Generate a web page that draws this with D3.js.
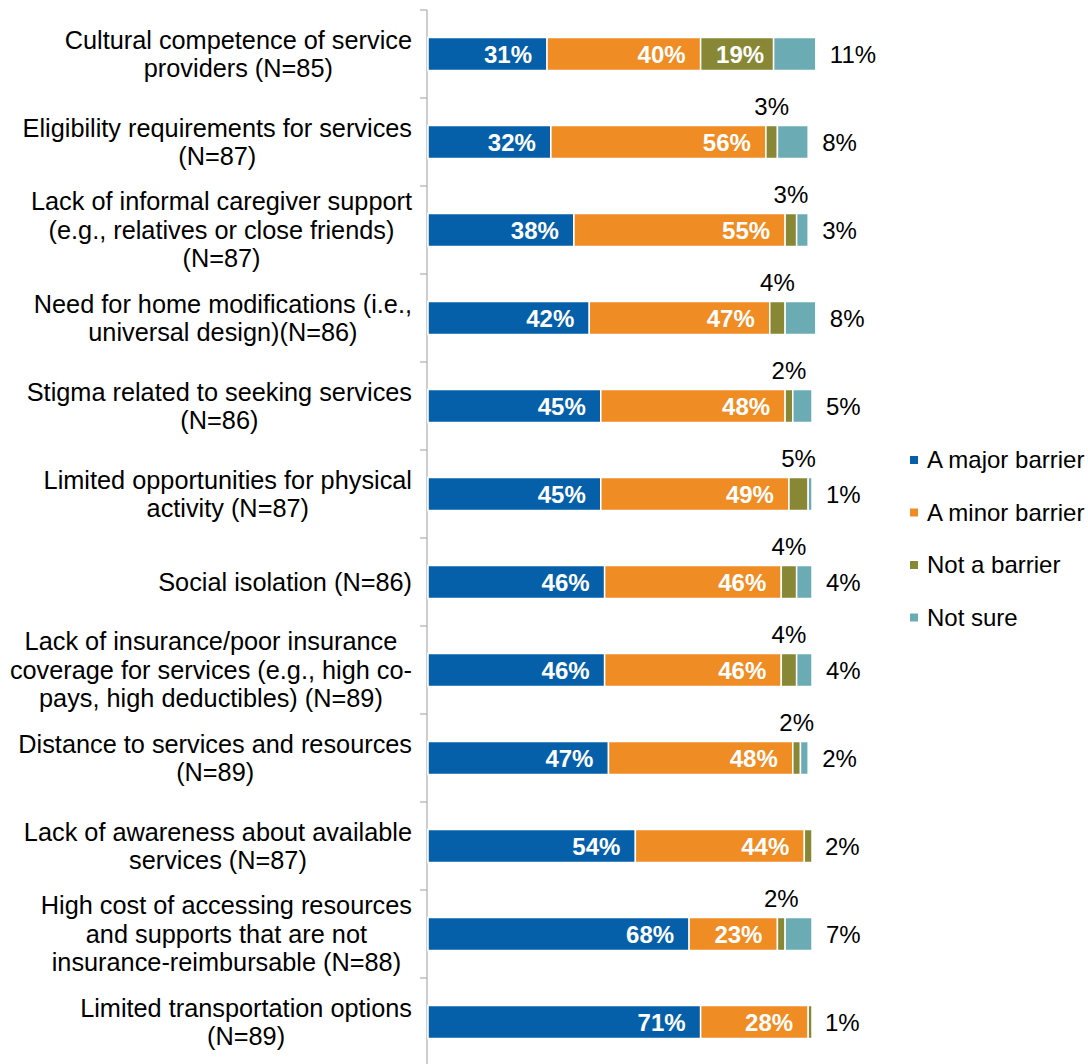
<!DOCTYPE html>
<html>
<head>
<meta charset="utf-8">
<script src="https://cdn.jsdelivr.net/npm/d3@7"></script>
<style>
  html, body { margin: 0; padding: 0; background: #fff; }
  svg { display: block; font-family: "Liberation Sans", Arial, sans-serif; }
</style>
</head>
<body>
<svg id="chart" width="1088" height="1064"></svg>
<script>
// ---- Data ----
const categories = [
  "Cultural competence of service providers (N=85)",
  "Eligibility requirements for services (N=87)",
  "Lack of informal caregiver support (e.g., relatives or close friends) (N=87)",
  "Need for home modifications (i.e., universal design)(N=86)",
  "Stigma related to seeking services (N=86)",
  "Limited opportunities for physical activity (N=87)",
  "Social isolation (N=86)",
  "Lack of insurance/poor insurance coverage for services (e.g., high co-pays, high deductibles) (N=89)",
  "Distance to services and resources (N=89)",
  "Lack of awareness about available services (N=87)",
  "High cost of accessing resources and supports that are not insurance-reimbursable (N=88)",
  "Limited transportation options (N=89)"
];
const categoryLines = [
  ["Cultural competence of service", "providers (N=85)"],
  ["Eligibility requirements for services", "(N=87)"],
  ["Lack of informal caregiver support", "(e.g., relatives or close friends)", "(N=87)"],
  ["Need for home modifications (i.e.,", "universal design)(N=86)"],
  ["Stigma related to seeking services", "(N=86)"],
  ["Limited opportunities for physical", "activity (N=87)"],
  ["Social isolation (N=86)"],
  ["Lack of insurance/poor insurance", "coverage for services (e.g., high co-", "pays, high deductibles) (N=89)"],
  ["Distance to services and resources", "(N=89)"],
  ["Lack of awareness about available", "services (N=87)"],
  ["High cost of accessing resources", "and supports that are not", "insurance-reimbursable (N=88)"],
  ["Limited transportation options", "(N=89)"]
];
const seriesNames = ["A major barrier", "A minor barrier", "Not a barrier", "Not sure"];
const majorBarrier = [31, 32, 38, 42, 45, 45, 46, 46, 47, 54, 68, 71];
const minorBarrier = [40, 56, 55, 47, 48, 49, 46, 46, 48, 44, 23, 28];
const notBarrier   = [19, 3, 3, 4, 2, 5, 4, 4, 2, 2, 2, 1];
const notSure      = [11, 8, 3, 8, 5, 1, 4, 4, 2, 0, 7, 0];
const colors = ["#0660A9", "#F08C24", "#878735", "#6BACB4"];

// ---- Build stacked table ----
const table = categories.map((c, i) => ({
  cat: c,
  "A major barrier": majorBarrier[i],
  "A minor barrier": minorBarrier[i],
  "Not a barrier": notBarrier[i],
  "Not sure": notSure[i]
}));
const stacked = d3.stack().keys(seriesNames)(table);

const svg = d3.select("#chart");
const font = '"Liberation Sans", Arial, sans-serif';

const x = d3.scaleLinear().domain([0, 100]).range([428, 812]);
const y = d3.scaleBand().domain(categories).range([10, 1066])
  .paddingInner(0.625).paddingOuter(0.3125);

// ---- Axis ----
const axisX = 427;
const axisG = svg.append("g");
axisG.append("line")
  .attr("x1", axisX).attr("x2", axisX)
  .attr("y1", y.range()[0]).attr("y2", y.range()[1])
  .attr("stroke", "#B3B3B3").attr("stroke-width", 1.3);
const boundaries = categories.map(c => y(c) - y.step() * y.paddingInner() / 2);
boundaries.push(y.range()[1]);
axisG.selectAll("line.tick").data(boundaries).enter().append("line")
  .attr("class", "tick")
  .attr("x1", axisX - 7).attr("x2", axisX)
  .attr("y1", d => d).attr("y2", d => d)
  .attr("stroke", "#B3B3B3").attr("stroke-width", 1.3);

// ---- Bars ----
const layers = svg.append("g").selectAll("g.layer").data(stacked).enter()
  .append("g").attr("class", "layer").attr("fill", (d, i) => colors[i]);
layers.selectAll("rect").data(d => d.filter(s => s[1] - s[0] > 0)).enter().append("rect")
  .attr("x", d => x(d[0]))
  .attr("y", d => y(d.data.cat))
  .attr("width", d => x(d[1]) - x(d[0]))
  .attr("height", y.bandwidth())
  .attr("stroke", "#fff").attr("stroke-width", 1.5);

// ---- Data labels ----
const lbl = svg.append("g").attr("font-family", font).attr("font-size", 24);
stacked.forEach((layer, si) => {
  layer.forEach((d, ri) => {
    const v = d[1] - d[0];
    if (v <= 0) return;
    const cy = y(d.data.cat) + y.bandwidth() / 2;
    const text = v + "%";
    if (si <= 1) {
      lbl.append("text").attr("x", x(d[1]) - 15).attr("y", cy).attr("dy", "0.36em")
        .attr("text-anchor", "end").attr("fill", "#fff").attr("font-weight", "bold").text(text);
    } else if (si === 2) {
      if (v >= 10) {
        lbl.append("text").attr("x", (x(d[0]) + x(d[1])) / 2 + 3).attr("y", cy).attr("dy", "0.36em")
          .attr("text-anchor", "middle").attr("fill", "#fff").attr("font-weight", "bold").text(text);
      } else if (notSure[ri] > 0) {
        lbl.append("text").attr("x", (x(d[0]) + x(d[1])) / 2).attr("y", y(d.data.cat) - 11)
          .attr("text-anchor", "middle").attr("fill", "#000").text(text);
      } else {
        lbl.append("text").attr("x", x(d[1]) + 13).attr("y", cy).attr("dy", "0.36em")
          .attr("text-anchor", "start").attr("fill", "#000").text(text);
      }
    } else {
      lbl.append("text").attr("x", x(d[1]) + 14).attr("y", cy).attr("dy", "0.36em")
        .attr("text-anchor", "start").attr("fill", "#000").text(text);
    }
  });
});

// ---- Category labels ----
const catG = svg.append("g").attr("font-family", font).attr("font-size", 25.3).attr("fill", "#000");
const lineH = 28.5;
categories.forEach((c, i) => {
  const lines = categoryLines[i];
  const cy = y(c) + y.bandwidth() / 2;
  const t = catG.append("text").attr("text-anchor", "middle");
  lines.forEach((ln, k) => {
    t.append("tspan").attr("x", 0)
      .attr("y", cy + (k - (lines.length - 1) / 2) * lineH)
      .attr("dy", "0.35em").text(ln);
  });
  let maxW = 0;
  t.selectAll("tspan").each(function () { maxW = Math.max(maxW, this.getComputedTextLength()); });
  const cx = 412 - maxW / 2;
  t.selectAll("tspan").attr("x", cx);
});

// ---- Legend ----
const leg = svg.append("g").attr("font-family", font).attr("font-size", 24);
seriesNames.forEach((n, i) => {
  const ly = 460 + i * 52.5;
  leg.append("rect").attr("x", 910).attr("y", ly - 4).attr("width", 8).attr("height", 8).attr("fill", colors[i]);
  leg.append("text").attr("x", 927).attr("y", ly).attr("dy", "0.35em").attr("fill", "#000").text(n);
});
</script>
</body>
</html>
